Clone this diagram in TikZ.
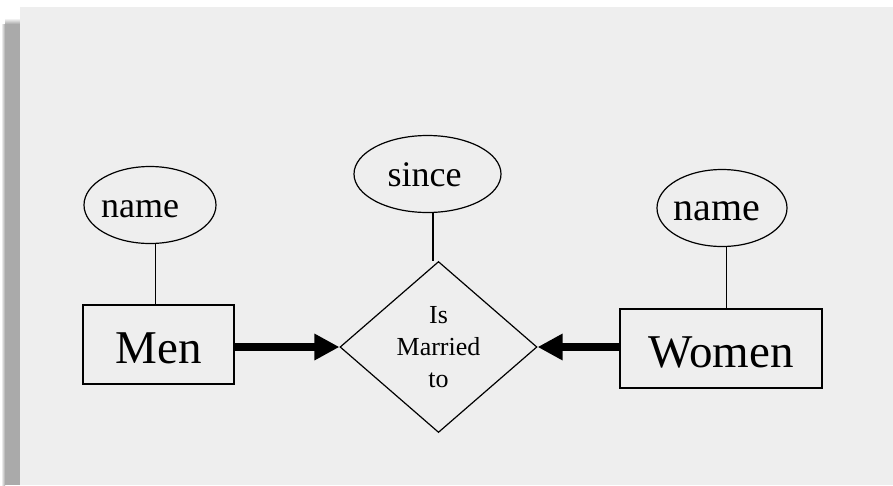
\documentclass[tikz,border=0pt]{standalone}
\usepackage{fontspec}
\setmainfont{Liberation Serif}
\usetikzlibrary{shapes.geometric,arrows.meta}
\definecolor{panel}{RGB}{238,238,238}
\definecolor{shadowgray}{RGB}{170,170,170}
\tikzset{
  entity/.style={draw, line width=1.3pt, rectangle, minimum height=79pt, inner sep=0pt,
    font=\fontsize{47}{50}\selectfont, text height=37pt, text depth=0pt},
  attr/.style={draw, line width=1.2pt, ellipse, minimum height=77pt, inner sep=0pt,
    font=\fontsize{36}{40}\selectfont, text height=25pt, text depth=1pt},
  rel/.style={draw, line width=1.2pt, diamond, minimum width=197pt, minimum height=171pt,
    aspect=1.152, inner sep=0pt, align=center, font=\fontsize{26}{32}\selectfont},
  link/.style={line width=1.2pt},
  total/.style={line width=8pt, -{Triangle[length=25pt,width=25pt]}}
}
\begin{document}
\begin{tikzpicture}[x=1pt,y=-1pt]
\useasboundingbox (0,0) rectangle (893,485);
\fill[white] (0,0) rectangle (893,485);
% shadow
\fill[shadowgray] (5,24) rectangle (20,485);
\shade[left color=white, right color=shadowgray] (1,24) rectangle (5,485);
\shade[top color=white, bottom color=shadowgray] (5,18) rectangle (20,24);
% panel
\fill[panel] (20,7) rectangle (893,485);

\node[entity, minimum width=151pt] (men) at (158.5,344.5) {Men};
\node[entity, minimum width=202pt] (women) at (721,348.5) {Women};
\node[rel] (marr) at (438.5,347) {Is\\Married\\to};
\node[attr, minimum width=132pt] (n1) at (150,205) {\kern-20pt name};
\node[attr, minimum width=147pt] (since) at (427.5,174) {\kern-6pt since};
\node[attr, minimum width=130pt, font=\fontsize{40}{44}\selectfont] (n2) at (722,208) {\kern-10pt name};

\draw[link] (n1.-82) -- (n1.-82 |- men.north);
\draw[link] (since.-82) -- (since.-82 |- marr.north);
\draw[link] (n2.-83) -- (n2.-83 |- women.north);

\draw[total] (men.east |- marr.west) -- (marr.west);
\draw[total] (women.west |- marr.east) -- (marr.east);
\end{tikzpicture}
\end{document}
